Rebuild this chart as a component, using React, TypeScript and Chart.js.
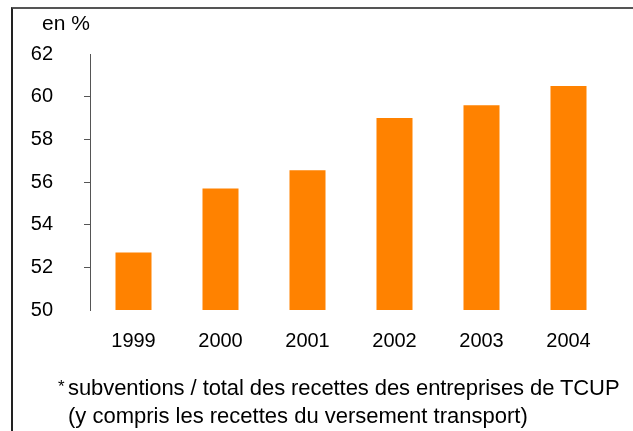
import React, { useEffect, useRef } from "react";
import { Chart, registerables } from "chart.js";

Chart.register(...registerables);

const categories = ["1999", "2000", "2001", "2002", "2003", "2004"];
const values = [52.7, 55.7, 56.55, 59.0, 59.6, 60.5];
const yTicks = [50, 52, 54, 56, 58, 60, 62];
const unitLabel = "en %";
const noteMark = "*";
const noteLine1 = "subventions / total des recettes des entreprises de TCUP";
const noteLine2 = "(y compris les recettes du versement transport)";

const FONT = "'Liberation Sans', Arial, sans-serif";

export default function App() {
  const ref = useRef<HTMLCanvasElement | null>(null);

  useEffect(() => {
    if (!ref.current) return;
    const chart = new Chart(ref.current, {
      type: "bar",
      data: {
        labels: categories,
        datasets: [
          {
            data: values,
            backgroundColor: "#FF8200",
            borderWidth: 0,
            categoryPercentage: 0.414,
            barPercentage: 1,
          },
        ],
      },
      options: {
        animation: false,
        responsive: false,
        maintainAspectRatio: false,
        layout: { padding: { left: 0, right: 21, top: 54, bottom: 0 } },
        plugins: { legend: { display: false }, tooltip: { enabled: false } },
        scales: {
          x: {
            grid: { display: false, drawTicks: false },
            border: { display: false },
            ticks: {
              color: "#000",
              font: { family: FONT, size: 20 },
              padding: 19,
            },
            afterFit: (s: any) => {
              s.height = 121;
            },
          },
          y: {
            min: 50,
            max: 62,
            afterBuildTicks: (s: any) => {
              s.ticks = yTicks.map((v) => ({ value: v }));
            },
            afterFit: (s: any) => {
              s.width = 90;
            },
            grid: {
              display: true,
              drawOnChartArea: false,
              drawTicks: true,
              tickLength: 6,
              color: (ctx: any) =>
                ctx.tick && (ctx.tick.value === 50 || ctx.tick.value === 62)
                  ? "rgba(0,0,0,0)"
                  : "#555",
            },
            border: { display: true, color: "#555", width: 1 },
            ticks: {
              color: "#000",
              font: { family: FONT, size: 20 },
              padding: 31,
            },
          },
        },
      },
    });
    return () => chart.destroy();
  }, []);

  const textBase: React.CSSProperties = {
    position: "absolute",
    color: "#000",
    whiteSpace: "nowrap",
  };

  return (
    <div
      style={{
        position: "absolute",
        left: 0,
        top: 0,
        width: 633,
        height: 431,
        overflow: "hidden",
        background: "#fff",
        fontFamily: FONT,
      }}
    >
      <div
        style={{
          position: "absolute",
          left: 11,
          top: 7,
          width: 640,
          height: 440,
          borderTop: "2px solid #555",
          borderLeft: "2px solid #222",
        }}
      />
      <canvas
        ref={ref}
        width={633}
        height={431}
        style={{ position: "absolute", left: 0, top: 0, width: 633, height: 431 }}
      />
      <div style={{ ...textBase, left: 42, top: 12, fontSize: 21, lineHeight: "22px" }}>
        {unitLabel}
      </div>
      <div style={{ ...textBase, left: 58, top: 378, fontSize: 17, lineHeight: "17px" }}>
        {noteMark}
      </div>
      <div
        style={{
          ...textBase,
          left: 68,
          top: 374,
          fontSize: 22,
          lineHeight: "28px",
          letterSpacing: "-0.08px",
        }}
      >
        {noteLine1}
      </div>
      <div style={{ ...textBase, left: 68, top: 402, fontSize: 22, lineHeight: "28px" }}>
        {noteLine2}
      </div>
    </div>
  );
}
